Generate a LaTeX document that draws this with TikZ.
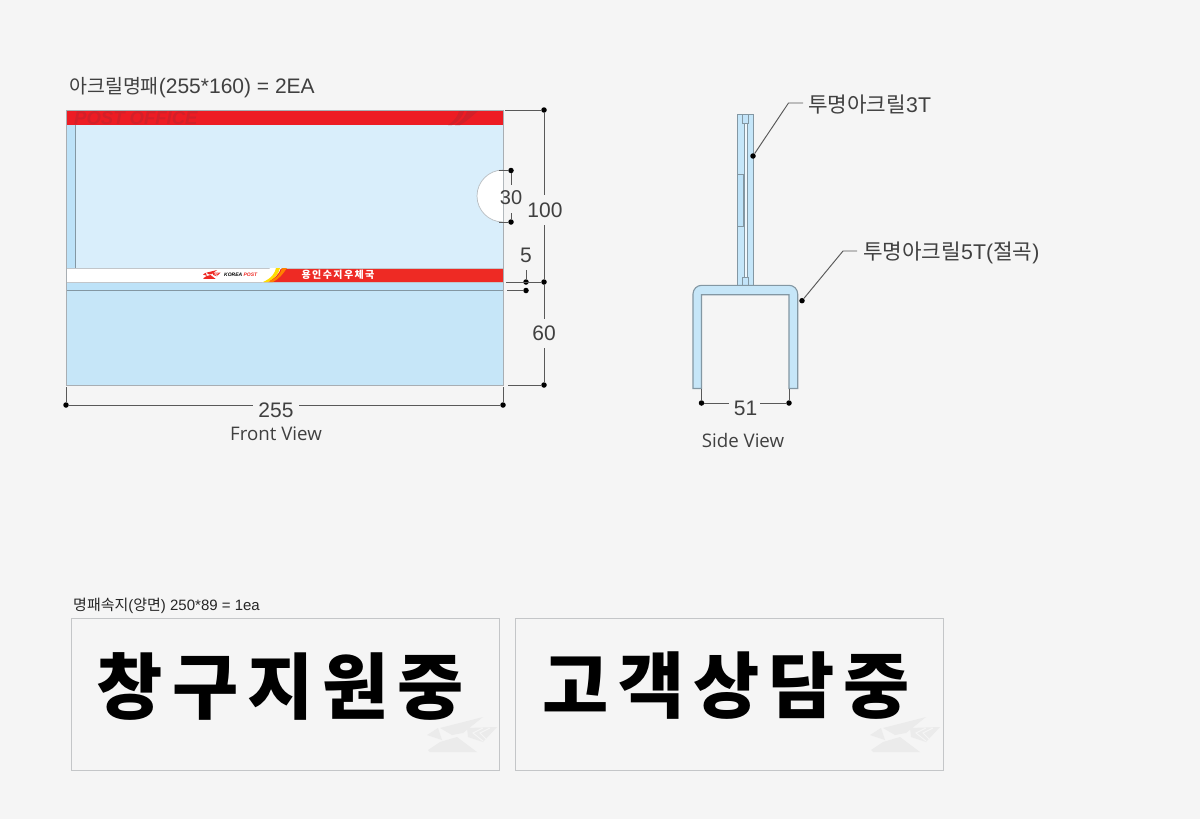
\documentclass[tikz,border=0pt]{standalone}
\usepackage{fontspec}
\setmainfont{Liberation Sans}
\newfontfamily\kofont{Noto Sans CJK KR}
\newfontfamily\kobig[LetterSpace=12.5]{Noto Sans CJK KR}
\newfontfamily\kowide[LetterSpace=14]{Noto Sans CJK KR}
\newfontfamily\capfont{Open Sans}
\definecolor{bgc}{HTML}{F5F5F5}
\definecolor{pale}{HTML}{D9EEFB}
\definecolor{midb}{HTML}{BDE2F8}
\definecolor{lowb}{HTML}{C6E6F8}
\definecolor{edge}{HTML}{A8AEB3}
\definecolor{edged}{HTML}{8397A3}
\definecolor{redb}{HTML}{ED1C24}
\definecolor{redc}{HTML}{EE2A24}
\definecolor{reddk}{HTML}{D22029}
\definecolor{txt}{HTML}{404040}
\definecolor{logoc}{HTML}{EBEBEB}
\definecolor{sheetedge}{HTML}{C4C6C8}
\tikzset{
  x=1pt,y=-1pt,
  dimline/.style={draw=black!65,line width=0.95pt},
  dimdot/.style={circle,fill=black,inner sep=0pt,minimum size=5.5pt},
  lbl/.style={inner sep=0pt,text=txt,font=\fontsize{21}{21}\selectfont},
  tag/.style={inner sep=0pt,text=txt,anchor=west,font=\fontsize{21.3}{21.3}\selectfont},
  viewcap/.style={inner sep=0pt,text=txt,font=\capfont\fontsize{18.7}{18.7}\selectfont},
  sheet/.style={draw=sheetedge,line width=0.85pt,fill=bgc},
  bigword/.style={inner sep=0pt,text=black,font=\kobig\bfseries\fontsize{72}{72}\selectfont},
}
% #1,#2 position, #3 scale, #4 fill, #5 colour of the chevrons, #6 their width
\newcommand{\pmark}[6]{%
  \begin{scope}[shift={(#1,#2)},scale=#3]
    \fill[#4] (13,11) -- (56,0) -- (36,16) -- (25,18) -- cycle;
    \fill[#4] (0,18) -- (11,11) -- (15,23) -- cycle;
    \fill[#4] (1,33) -- (13,25) -- (30,20) -- (50,35) -- (3,35) -- cycle;
    \fill[#4] (40,11) -- (70,10) -- (56,25) -- (41,20) -- cycle;
    \draw[#5,line width=#6] (56,11) -- (46,16) -- (56,24);
    \draw[#5,line width=#6] (63,11) -- (53,16) -- (60,23);
  \end{scope}}
\begin{document}
\begin{tikzpicture}
\useasboundingbox[fill=bgc] (0,0) rectangle (1200,819);
% Front view
\fill[pale] (66,110) rectangle (503,268);
\fill[midb] (67,125) rectangle (75,268);
\draw[edged,line width=0.9pt] (75,125) -- (75,268);
\fill[white] (66,268) rectangle (270,282);
\fill[redc] (270,268) rectangle (503,282);
\fill[midb] (66,282) rectangle (503,290);
\fill[lowb] (66,290) rectangle (503,385);
\draw[edged,line width=0.8pt] (66,290.5) -- (503,290.5);
\draw[edge!70,line width=0.8pt] (66,268) -- (503,268);
\draw[edge!70,line width=0.8pt] (66,282) -- (503,282);
\fill[redb] (66,110) rectangle (503,125);
\node[inner sep=0pt,anchor=west,text=reddk] (po) at (74,118.5) {\fontsize{18.5}{18.5}\selectfont\bfseries\itshape POST OFFICE};
\fill[reddk] (448,125) .. controls (456,120) and (458,115) .. (459,111) -- (464,111) .. controls (463,116) and (458,122) .. (452,125) -- cycle;
\fill[reddk] (455,125) .. controls (463,120) and (466,115) .. (467,111) -- (478,111) .. controls (472,116) and (466,122) .. (460,125) -- cycle;
% band logo
\fill[white] (270,268) -- (281,268) .. controls (279,274) and (275,279) .. (264,282) -- (262,282) -- cycle;
\fill[yellow!80!orange] (263,282) .. controls (272,278) and (275,273) .. (276,268) -- (280,268) .. controls (279,274) and (274,279) .. (268,282) -- cycle;
\fill[orange] (268,282) .. controls (277,278) and (281,273) .. (282,268) -- (287,268) .. controls (283,274) and (279,279) .. (273,282) -- cycle;
\pmark{203}{270}{0.25}{redc}{white}{0.3pt}
\node[inner sep=0pt,anchor=west,text=black] (kp) at (224,275) {\fontsize{5}{5}\selectfont\bfseries\itshape KOREA \textcolor{redc}{POST}};
\node[inner sep=0pt,text=white] (office) at (338,275) {\kowide\bfseries\fontsize{10}{10}\selectfont 용인수지우체국};
% panel outline and finger cut-out
\draw[edge,line width=1pt] (66,110) rectangle (503,385);
\fill[white] (503,170) arc[start angle=-90,end angle=-270,radius=26];
\draw[edge!80,line width=0.7pt] (503,170) arc[start angle=-90,end angle=-270,radius=26];
% Front dimensions
\coordinate (e1) at (505,110);
\coordinate (e2) at (506,282);
\coordinate (e3) at (507,290.5);
\coordinate (e4) at (508,385);
\node[dimdot] (d1) at (544,110) {};
\node[dimdot] (d2) at (544,282) {};
\node[dimdot] (d3) at (544,385) {};
\node[dimdot] (d4) at (526,282) {};
\node[dimdot] (d5) at (526,290.5) {};
\node[dimdot] (d6) at (511,170.5) {};
\node[dimdot] (d7) at (511,222) {};
\node[dimdot] (d8) at (66,405) {};
\node[dimdot] (d9) at (503,405) {};
\coordinate (c6) at (499,170.5);
\coordinate (c7) at (499,222);
\coordinate (c8) at (66,387);
\coordinate (c9) at (503,387);
\coordinate (c5) at (526,270);
\node[lbl] (n100) at (545,210) {100};
\node[lbl] (n60) at (544,333) {60};
\node[lbl] (n5) at (526,255.5) {5};
\node[lbl,font=\fontsize{20}{20}\selectfont] (n30) at (511,197.5) {30};
\node[lbl] (n255) at (276,410) {255};
\draw[dimline] (e1) -- (d1);
\draw[dimline] (d1) -- (544,195);
\draw[dimline] (544,225) -- (d2);
\draw[dimline] (d2) -- (544,319);
\draw[dimline] (544,348) -- (d3);
\draw[dimline] (e2) -- (d2);
\draw[dimline] (e3) -- (d5);
\draw[dimline] (e4) -- (d3);
\draw[dimline] (c5) -- (d4);
\draw[dimline] (c6) -- (d6);
\draw[dimline] (c7) -- (d7);
\draw[dimline] (d6) -- (511,185);
\draw[dimline] (511,213) -- (d7);
\draw[dimline] (c8) -- (d8);
\draw[dimline] (c9) -- (d9);
\draw[dimline] (d8) -- (253,405);
\draw[dimline] (299,405) -- (d9);
\node[viewcap] (fv) at (276,434) {Front View};
\node[inner sep=0pt,anchor=west,text=txt] (title1) at (69,88) {\fontsize{21}{21}\selectfont{\kofont\fontsize{19.5}{19.5}\selectfont 아크릴명패}(255*160) = 2EA};
% Side view
\draw[edged,line width=0.9pt,fill=midb!70!pale] (737.5,114) rectangle (753.3,286);
\draw[edged,line width=0.7pt,fill=pale!40!white] (744,114) rectangle (747.5,286);
\draw[edged,line width=0.8pt,fill=midb!80!pale] (742,114) rectangle (748,123);
\draw[edged,line width=0.8pt,fill=midb!80!pale] (742,277) rectangle (748,286);
\draw[edged,line width=0.8pt,fill=midb] (737.5,174) rectangle (743,226.5);
\draw[edged,line width=1.1pt,fill=lowb]
  (693,388.5) -- (693,294) arc[start angle=180,end angle=270,radius=8.7] -- (789,285.3)
  arc[start angle=270,end angle=360,radius=8.7] -- (797.7,388.5) -- (789,388.5) -- (789,294.7)
  -- (701.5,294.7) -- (701.5,388.5) -- cycle;
\node[dimdot] (s1) at (701.5,403) {};
\node[dimdot] (s2) at (789,403) {};
\node[lbl] (n51) at (745.5,408) {51};
\draw[dimline] (701.5,388.5) -- (s1);
\draw[dimline] (789,388.5) -- (s2);
\draw[dimline] (s1) -- (729,403);
\draw[dimline] (760,403) -- (s2);
\node[viewcap] (sv) at (743,440) {Side View};
% Leaders
\node[dimdot] (l1) at (753,156) {};
\node[dimdot] (l2) at (802,300.7) {};
\node[tag] (t1) at (808,105) {{\kofont 투명아크릴}3T};
\node[tag] (t2) at (863,253) {{\kofont 투명아크릴}5T({\kofont 절곡})};
\coordinate (k1) at (788.5,103);
\coordinate (k2) at (843,251);
\draw[dimline] (l1) -- (k1) -- (803,103);
\draw[dimline] (l2) -- (k2) -- (857,251);
% Inserts
\node[inner sep=0pt,anchor=west,text=black!85] (title2) at (73,606) {\fontsize{15}{15}\selectfont{\kofont 명패속지}({\kofont 양면}) 250*89 = 1ea};
\draw[sheet] (71,618) rectangle (499,770);
\draw[sheet] (515,618) rectangle (943,770);
\pmark{427}{717}{1}{logoc}{bgc}{1pt}
\pmark{870}{717}{1}{logoc}{bgc}{1pt}
\node[bigword] (w1) at (280.5,686) {창구지원중};
\node[bigword] (w2) at (726.5,686) {고객상담중};
\end{tikzpicture}
\end{document}
